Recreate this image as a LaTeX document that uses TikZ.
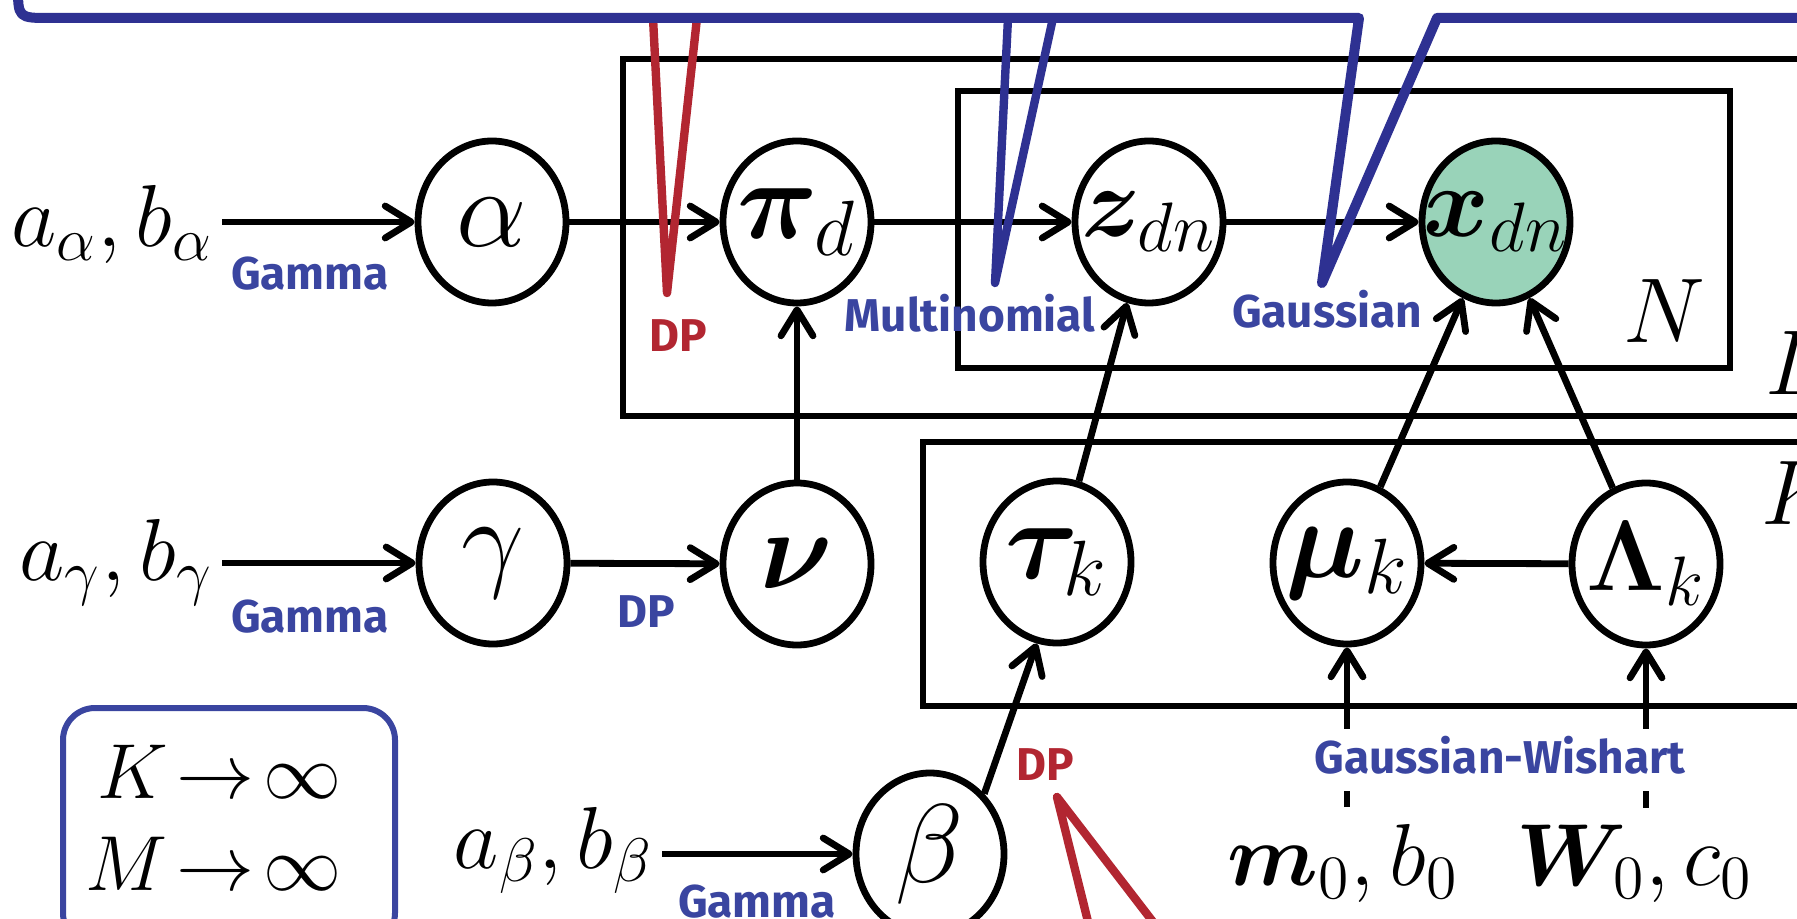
\RequirePackage{fix-cm}
\documentclass[tikz,border=0pt]{standalone}
\usepackage{amsmath,amssymb}
\usepackage{fontspec}
\usepackage{bm}
\newfontfamily\distfont{Fira Sans}
\usepackage{xcolor}
\definecolor{callblue}{HTML}{2E3192}
\definecolor{distblue}{HTML}{3A45A0}
\definecolor{dpred}{HTML}{B22631}
\definecolor{obsgreen}{HTML}{99D3B9}
\usepackage{tikz}
\usetikzlibrary{positioning,arrows.meta,shapes.geometric,calc}
\tikzset{
    var/.style={
        ellipse,
        draw,
        fill=white,
        line width=1.7pt,
        minimum width=37pt,
        minimum height=40.5pt,
        inner sep=-6pt,
        font=\fontsize{28}{30}\selectfont,
    },
    varsmall/.style={
        var,
        font=\fontsize{25}{27}\selectfont,
    },
    obs/.style={
        varsmall,
        fill=obsgreen,
    },
    hyper/.style={
        inner sep=2pt,
        font=\fontsize{22}{24}\selectfont,
    },
    platelabel/.style={
        inner sep=0pt,
        font=\fontsize{23}{25}\selectfont,
    },
    limtext/.style={
        inner sep=0pt,
        font=\fontsize{19.5}{21}\selectfont,
    },
    plate/.style={
        draw,
        line width=1.5pt,
    },
    limbox/.style={
        draw=distblue,
        line width=1.5pt,
        rounded corners=8pt,
    },
    edge/.style={
        -{Straight Barb[length=6.5pt,width=8pt,round]},
        line width=1.7pt,
    },
    stem/.style={
        line width=1.7pt,
    },
    dist/.style={
        inner sep=1.5pt,
        text=distblue,
        font=\distfont\bfseries\fontsize{11.5}{12}\selectfont,
    },
    dpdist/.style={
        dist,
        text=dpred,
    },
    tail/.style={
        line width=2.1pt,
        line join=round,
        line cap=round,
    },
    callout/.style={
        draw=callblue,
        line width=2.5pt,
        line join=round,
    },
}

\begin{document}
\begin{tikzpicture}[x=0.25pt,y=-0.25pt]
    \useasboundingbox (0,0) rectangle (1797,919);
    \clip (0,0) rectangle (1797,919);

    % plates
    \draw[plate] (623,59) rectangle (1850,416);
    \draw[plate] (958,91) rectangle (1730,368);
    \draw[plate] (923,442) rectangle (1850,706);
    \node[platelabel, anchor=base east] (labN) at (1706,343) {$N$};
    \node[platelabel, anchor=base west] (labD) at (1765,395) {$D$};
    \node[platelabel, anchor=base west] (labK) at (1761,525) {$K$};

    % variables
    \node[var] (alpha) at (492,222) {$\alpha$};
    \node[var] (pid) at (797,222) {$\bm{\pi}_d$};
    \node[varsmall] (zdn) at (1149,222) {$\bm{z}_{dn}$};
    \node[obs] (xdn) at (1496,222) {$\bm{x}_{dn}$};
    \node[var] (gamma) at (493,563) {$\gamma$};
    \node[var] (nu) at (797,564) {$\bm{\nu}$};
    \node[var] (tauk) at (1057,562) {$\bm{\tau}_k$};
    \node[var] (muk) at (1347,563) {$\bm{\mu}_k$};
    \node[varsmall] (Lamk) at (1646,564) {$\bm{\Lambda}_k$};
    \node[var] (beta) at (930,854) {$\beta$};

    % hyperparameters
    \node[hyper, anchor=base east] (aalpha) at (222,247) {$a_\alpha, b_\alpha$};
    \node[hyper, anchor=base east] (agamma) at (222,580) {$a_\gamma, b_\gamma$};
    \node[hyper, anchor=base east] (abeta) at (662,868) {$a_\beta, b_\beta$};
    \node[hyper, anchor=base] (mb0) at (1343,885) {$\bm{m}_0, b_0$};
    \node[hyper, anchor=base] (wc0) at (1635,885) {$\bm{W}_0, c_0$};

    % distributions
    \node[dist, anchor=base] (gam1) at (310,290) {Gamma};
    \node[dist, anchor=base] (gam2) at (310,632) {Gamma};
    \node[dist, anchor=base] (gam3) at (757,917) {Gamma};
    \node[dist, anchor=base] (dpnu) at (646,627) {DP};
    \node[dpdist, anchor=base] (dppi) at (678,352) {DP};
    \node[dpdist, anchor=base] (dptau) at (1045,780) {DP};
    \node[dist, anchor=base] (multi) at (970,332) {Multinomial};
    \node[dist, anchor=base] (gauss) at (1327,328) {Gaussian};
    \node[dist, anchor=base] (gw) at (1500,773) {Gaussian-Wishart};

    % edges
    \draw[edge] (aalpha.east |- alpha) -- (alpha);
    \draw[edge] (alpha) -- (pid);
    \draw[edge] (pid) -- (zdn);
    \draw[edge] (zdn) -- (xdn);
    \draw[edge] (agamma.east |- gamma) -- (gamma);
    \draw[edge] (gamma) -- (nu);
    \draw[edge] (nu) -- (pid);
    \draw[edge] (tauk) -- (zdn);
    \draw[edge] (muk) -- (xdn);
    \draw[edge] (Lamk) -- (xdn);
    \draw[edge] (Lamk) -- (muk);
    \draw[edge] (abeta.east |- beta) -- (beta);
    \draw[edge] (beta.48) -- (tauk.256);
    \draw[edge] (gw.north -| muk) -- (muk);
    \draw[edge] (gw.north -| Lamk) -- (Lamk);
    \draw[stem, shorten <=2pt, shorten >=2.5pt] (mb0.north -| muk) -- (gw.south -| muk);
    \draw[stem, shorten <=2pt, shorten >=2.5pt] (wc0.north -| Lamk) -- (gw.south -| Lamk);

    % limits box
    \draw[limbox] (63,708) rectangle (395,945);
    \node[limtext, anchor=base east] (limK) at (342,798) {$K \mathrel{\mkern-3mu\rightarrow\mkern-3mu} \infty$};
    \node[limtext, anchor=base east] (limM) at (342,890) {$M \mathrel{\mkern-3mu\rightarrow\mkern-3mu} \infty$};

    % callouts
    \draw[tail, dpred] (653,18) -- (667,293) -- (697,18);
    \draw[tail, dpred] (1100,970) -- (1057,797) -- (1190,970);
    \draw[tail, callblue] (1008,18) -- (995,283) -- (1053,18);
    \draw[callout] (18,-60) -- (18,-14) .. controls (18,18) .. (50,18)
        -- (1359,18) -- (1322,283) -- (1437,18) -- (1850,18);
\end{tikzpicture}
\end{document}
